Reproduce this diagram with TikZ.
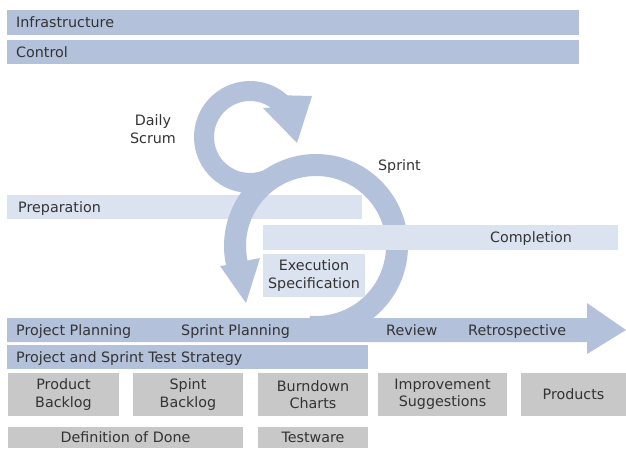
\documentclass[tikz,border=0pt]{standalone}
\usepackage{fontspec}
\setmainfont{DejaVu Sans}
\usepackage{xcolor}
\definecolor{scrumblue}{RGB}{179,193,219}
\definecolor{scrumlight}{RGB}{220,227,240}
\definecolor{scrumgray}{RGB}{200,200,200}
\tikzset{
	lbl/.style={inner sep=0pt, text=black!80, font=\fontsize{14.3}{17.5}\selectfont},
	ctr/.style={lbl, align=center},
}

\begin{document}
\begin{tikzpicture}[x=1pt, y=-1pt]
	\useasboundingbox (0,0) rectangle (626,448);
	%top bars
	\fill[scrumblue] (7,10) rectangle (579,35); %infrastructure
	\fill[scrumblue] (7,40) rectangle (579,64); %control
	\fill[scrumlight] (7,195) rectangle (362,219); %preparation
	%
	%sprint cycle (big ring, centre 316/246)
	\fill[scrumblue] (307.98,337.65) arc[start angle=95, end angle=-192, radius=92]
		-- (220,266) -- (246,303) -- (260,258) -- (247.53,260.55)
		arc[start angle=-192, end angle=95, radius=70] -- cycle;
	%daily scrum (small ring, centre 250/137)
	\fill[scrumblue] (278,185.5) arc[start angle=60, end angle=312, radius=56]
		-- (312,96) -- (297,143) -- (263,108) -- (270.65,107.51)
		arc[start angle=305, end angle=60, radius=36] -- cycle;
	%
	\fill[scrumlight] (263,225) rectangle (618,250); %completion
	\fill[scrumlight] (263,254) rectangle (365,297); %execution
	%
	%timeline arrow
	\fill[scrumblue] (7,318) -- (587,318) -- (587,303) -- (626,330) -- (587,354) -- (587,342) -- (7,342) -- cycle;
	\fill[scrumblue] (7,345) rectangle (368,369); %test strategy
	%
	%artefacts
	\fill[scrumgray] (8,373) rectangle (119,416); %product backlog
	\fill[scrumgray] (133,373) rectangle (243,416); %sprint backlog
	\fill[scrumgray] (258,373) rectangle (368,416); %burndown
	\fill[scrumgray] (378,373) rectangle (507,416); %improvement
	\fill[scrumgray] (521,373) rectangle (626,416); %products
	\fill[scrumgray] (8,427) rectangle (243,448); %definition of done
	\fill[scrumgray] (258,427) rectangle (368,448); %testware
	%
	% Text nodes
	\node[lbl, anchor=base west] (infra) at (16,27.7) {Infrastructure};
	\node[lbl, anchor=base west] (ctrl) at (16,57.2) {Control};
	\node[ctr] (daily) at (153,129) {Daily\\Scrum};
	\node[lbl, anchor=base] (sprint) at (399.5,170) {Sprint};
	\node[lbl, anchor=base west] (prep) at (18,212.2) {Preparation};
	\node[lbl, anchor=base] (compl) at (531,242.7) {Completion};
	\node[ctr] (exec) at (314,275.5) {Execution\\Specification};
	\node[lbl, anchor=base west] (pplan) at (16,335.2) {Project Planning};
	\node[lbl, anchor=base west] (splan) at (181,335.2) {Sprint Planning};
	\node[lbl, anchor=base west] (review) at (386,335.2) {Review};
	\node[lbl, anchor=base west] (retro) at (468,335.2) {Retrospective};
	\node[lbl, anchor=base west] (strat) at (16,362.2) {Project and Sprint Test Strategy};
	\node[ctr] (pback) at (63.5,394.5) {Product\\Backlog};
	\node[ctr] (sback) at (188,394.5) {Spint\\Backlog};
	\node[ctr] (burn) at (313,394.5) {Burndown\\Charts};
	\node[ctr] (impr) at (442.5,394.5) {Improvement\\Suggestions};
	\node[ctr] (prod) at (573.5,394.5) {Products};
	\node[ctr] (dod) at (125.5,437.5) {Definition of Done};
	\node[ctr] (tware) at (313,437.5) {Testware};
\end{tikzpicture}
\end{document}
